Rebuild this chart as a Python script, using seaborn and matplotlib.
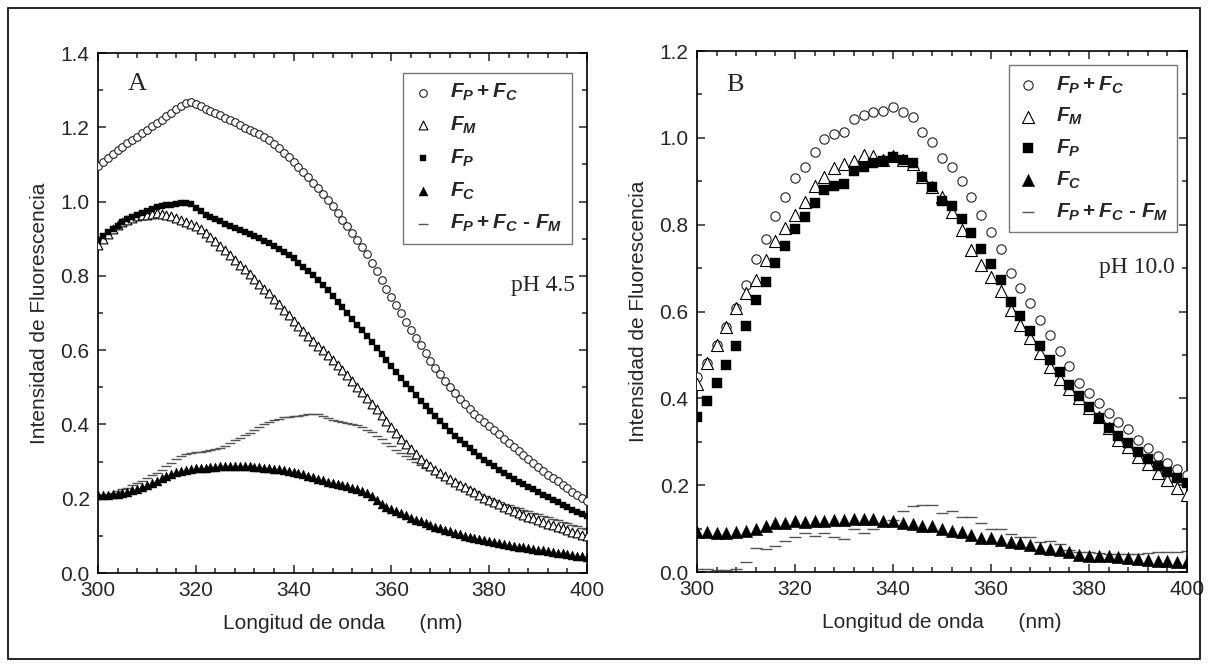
import numpy as np
import pandas as pd
import matplotlib
matplotlib.use('Agg')
import matplotlib.pyplot as plt
import seaborn as sns
from matplotlib.ticker import MultipleLocator, AutoMinorLocator
from matplotlib.patches import Rectangle

# --- Data: panel A (pH 4.5), 1 nm steps ---
wl_a = np.arange(300, 401, 1)
a_fp_fc = [1.096, 1.107, 1.118, 1.128, 1.138, 1.147, 1.157, 1.166, 1.175, 1.184,
           1.193, 1.203, 1.212, 1.221, 1.230, 1.239, 1.248, 1.257, 1.266, 1.268,
           1.263, 1.257, 1.250, 1.244, 1.238, 1.232, 1.226, 1.220, 1.213, 1.206,
           1.198, 1.193, 1.187, 1.181, 1.174, 1.166, 1.155, 1.143, 1.131, 1.119,
           1.106, 1.093, 1.080, 1.066, 1.051, 1.036, 1.020, 1.004, 0.987, 0.969,
           0.951, 0.933, 0.915, 0.897, 0.878, 0.858, 0.835, 0.812, 0.789, 0.766,
           0.743, 0.721, 0.699, 0.677, 0.655, 0.634, 0.613, 0.592, 0.572, 0.553,
           0.535, 0.517, 0.500, 0.484, 0.469, 0.455, 0.442, 0.429, 0.417, 0.406,
           0.395, 0.384, 0.373, 0.362, 0.351, 0.340, 0.329, 0.318, 0.307, 0.296,
           0.285, 0.275, 0.265, 0.256, 0.247, 0.238, 0.228, 0.219, 0.211, 0.203,
           0.195]
a_fm = [0.883, 0.900, 0.914, 0.926, 0.937, 0.945, 0.951, 0.956, 0.960, 0.963,
        0.965, 0.967, 0.968, 0.967, 0.964, 0.960, 0.955, 0.950, 0.945, 0.940,
        0.934, 0.926, 0.916, 0.905, 0.893, 0.881, 0.869, 0.856, 0.843, 0.830,
        0.818, 0.805, 0.792, 0.779, 0.766, 0.753, 0.739, 0.724, 0.709, 0.694,
        0.679, 0.665, 0.651, 0.638, 0.625, 0.612, 0.600, 0.587, 0.574, 0.561,
        0.547, 0.532, 0.517, 0.502, 0.487, 0.472, 0.456, 0.441, 0.426, 0.410,
        0.394, 0.378, 0.362, 0.347, 0.333, 0.320, 0.308, 0.297, 0.287, 0.277,
        0.268, 0.260, 0.252, 0.245, 0.238, 0.231, 0.224, 0.217, 0.210, 0.203,
        0.197, 0.191, 0.185, 0.179, 0.173, 0.167, 0.162, 0.157, 0.152, 0.147,
        0.142, 0.138, 0.133, 0.129, 0.124, 0.120, 0.115, 0.111, 0.107, 0.103,
        0.099]
a_fp = [0.897, 0.907, 0.917, 0.926, 0.935, 0.944, 0.952, 0.959, 0.965, 0.970,
        0.975, 0.980, 0.985, 0.988, 0.990, 0.992, 0.994, 0.996, 0.997, 0.993,
        0.983, 0.974, 0.965, 0.958, 0.952, 0.947, 0.941, 0.935, 0.930, 0.924,
        0.918, 0.913, 0.907, 0.901, 0.895, 0.888, 0.881, 0.873, 0.865, 0.856,
        0.847, 0.836, 0.825, 0.814, 0.802, 0.789, 0.775, 0.761, 0.746, 0.730,
        0.715, 0.700, 0.684, 0.669, 0.653, 0.637, 0.621, 0.605, 0.589, 0.573,
        0.557, 0.541, 0.526, 0.510, 0.495, 0.480, 0.464, 0.450, 0.436, 0.422,
        0.409, 0.396, 0.383, 0.370, 0.358, 0.347, 0.336, 0.325, 0.315, 0.305,
        0.296, 0.287, 0.278, 0.270, 0.262, 0.254, 0.246, 0.239, 0.232, 0.225,
        0.218, 0.211, 0.204, 0.197, 0.190, 0.184, 0.177, 0.171, 0.165, 0.159,
        0.153]
a_fc = [0.210, 0.210, 0.211, 0.212, 0.214, 0.216, 0.219, 0.223, 0.227, 0.232,
        0.237, 0.243, 0.249, 0.255, 0.261, 0.266, 0.271, 0.275, 0.278, 0.280,
        0.282, 0.283, 0.284, 0.285, 0.286, 0.287, 0.288, 0.288, 0.288, 0.288,
        0.288, 0.287, 0.286, 0.285, 0.284, 0.283, 0.281, 0.279, 0.277, 0.275,
        0.273, 0.270, 0.266, 0.262, 0.258, 0.254, 0.250, 0.246, 0.243, 0.240,
        0.237, 0.234, 0.230, 0.226, 0.221, 0.215, 0.207, 0.197, 0.187, 0.179,
        0.173, 0.167, 0.161, 0.155, 0.149, 0.144, 0.139, 0.134, 0.129, 0.124,
        0.120, 0.116, 0.112, 0.108, 0.105, 0.101, 0.098, 0.095, 0.092, 0.089,
        0.086, 0.083, 0.080, 0.078, 0.075, 0.073, 0.071, 0.069, 0.067, 0.065,
        0.063, 0.061, 0.059, 0.057, 0.055, 0.053, 0.051, 0.049, 0.047, 0.045,
        0.043]
a_diff = [0.210, 0.211, 0.213, 0.216, 0.220, 0.225, 0.230, 0.236, 0.242, 0.249,
          0.256, 0.263, 0.270, 0.278, 0.287, 0.297, 0.307, 0.315, 0.320, 0.323,
          0.325, 0.327, 0.328, 0.330, 0.333, 0.337, 0.343, 0.350, 0.357, 0.364,
          0.371, 0.378, 0.386, 0.394, 0.401, 0.407, 0.412, 0.416, 0.419, 0.421,
          0.422, 0.424, 0.426, 0.428, 0.429, 0.428, 0.424, 0.418, 0.413, 0.410,
          0.407, 0.405, 0.402, 0.398, 0.392, 0.386, 0.379, 0.370, 0.360, 0.350,
          0.341, 0.332, 0.323, 0.314, 0.306, 0.298, 0.291, 0.284, 0.277, 0.270,
          0.263, 0.257, 0.250, 0.244, 0.238, 0.232, 0.226, 0.220, 0.214, 0.208,
          0.202, 0.197, 0.192, 0.187, 0.182, 0.178, 0.174, 0.170, 0.166, 0.162,
          0.158, 0.154, 0.150, 0.146, 0.142, 0.138, 0.134, 0.130, 0.126, 0.122,
          0.118]

# --- Data: panel B (pH 10.0), 2 nm steps ---
wl_b = np.arange(300, 401, 2)
b_fp_fc = [0.450, 0.482, 0.523, 0.565, 0.609, 0.661, 0.722, 0.768, 0.820, 0.863,
           0.907, 0.932, 0.968, 0.997, 1.008, 1.013, 1.043, 1.053, 1.060, 1.062,
           1.072, 1.060, 1.049, 1.014, 0.991, 0.953, 0.933, 0.901, 0.864, 0.822,
           0.784, 0.743, 0.689, 0.655, 0.620, 0.580, 0.545, 0.510, 0.474, 0.436,
           0.412, 0.390, 0.367, 0.346, 0.329, 0.304, 0.285, 0.268, 0.252, 0.237,
           0.223]
b_fm = [0.434, 0.481, 0.523, 0.565, 0.607, 0.642, 0.672, 0.719, 0.763, 0.793,
        0.822, 0.853, 0.889, 0.910, 0.931, 0.939, 0.947, 0.960, 0.958, 0.950,
        0.958, 0.950, 0.939, 0.910, 0.887, 0.863, 0.830, 0.788, 0.742, 0.707,
        0.680, 0.648, 0.603, 0.570, 0.540, 0.505, 0.473, 0.444, 0.421, 0.400,
        0.377, 0.356, 0.331, 0.304, 0.287, 0.266, 0.249, 0.229, 0.212, 0.193,
        0.177]
b_fp = [0.356, 0.395, 0.435, 0.477, 0.521, 0.567, 0.626, 0.667, 0.711, 0.751,
        0.790, 0.817, 0.851, 0.880, 0.889, 0.894, 0.924, 0.932, 0.941, 0.947,
        0.955, 0.950, 0.941, 0.910, 0.887, 0.855, 0.843, 0.812, 0.780, 0.743,
        0.709, 0.672, 0.623, 0.590, 0.555, 0.520, 0.488, 0.460, 0.431, 0.405,
        0.380, 0.355, 0.331, 0.313, 0.298, 0.277, 0.260, 0.244, 0.230, 0.217,
        0.206]
b_fc = [0.093, 0.093, 0.091, 0.091, 0.093, 0.095, 0.100, 0.106, 0.112, 0.114,
        0.118, 0.116, 0.118, 0.118, 0.120, 0.120, 0.121, 0.123, 0.121, 0.118,
        0.118, 0.112, 0.110, 0.106, 0.105, 0.099, 0.095, 0.092, 0.085, 0.079,
        0.078, 0.073, 0.069, 0.066, 0.062, 0.056, 0.053, 0.051, 0.045, 0.039,
        0.038, 0.038, 0.038, 0.035, 0.033, 0.030, 0.028, 0.026, 0.025, 0.024,
        0.022]
b_diff = [0.008, 0.008, 0.005, 0.005, 0.008, 0.024, 0.056, 0.053, 0.061, 0.072,
          0.080, 0.089, 0.084, 0.089, 0.080, 0.075, 0.100, 0.091, 0.100, 0.110,
          0.120, 0.141, 0.153, 0.154, 0.154, 0.137, 0.141, 0.127, 0.127, 0.114,
          0.100, 0.099, 0.088, 0.080, 0.081, 0.070, 0.071, 0.065, 0.051, 0.045,
          0.045, 0.043, 0.041, 0.041, 0.042, 0.041, 0.043, 0.045, 0.045, 0.047,
          0.049]

labels = [r'$F_P + F_C$', r'$F_M$', r'$F_P$', r'$F_C$', r'$F_P + F_C$ - $F_M$']

sns.set_style('ticks')
plt.rcParams['font.family'] = ['Liberation Sans', 'DejaVu Sans']
plt.rcParams['mathtext.fontset'] = 'custom'
plt.rcParams['mathtext.it'] = 'Liberation Sans:italic:bold'
plt.rcParams['mathtext.rm'] = 'Liberation Sans:bold'
plt.rcParams['mathtext.bf'] = 'Liberation Sans:bold'

fig = plt.figure(figsize=(12.08, 6.67), dpi=100)
ax_a = fig.add_axes([0.0811, 0.1409, 0.4048, 0.7796])
ax_b = fig.add_axes([0.5770, 0.1424, 0.4056, 0.7811])

# figure frame
fig.patches.append(Rectangle((0.007, 0.012), 0.986, 0.976, transform=fig.transFigure,
                             fill=False, edgecolor='black', linewidth=1.2))


def draw_panel(ax, wl, series, sizes):
    s_circ, s_tri, s_sq, s_ftri, s_dash = sizes
    sns.scatterplot(x=wl, y=series[0], ax=ax, marker='o', s=s_circ, facecolor='white',
                    edgecolor='#222222', linewidth=0.8, label=labels[0], zorder=3)
    sns.scatterplot(x=wl, y=series[1], ax=ax, marker='^', s=s_tri, facecolor='white',
                    edgecolor='black', linewidth=0.8, label=labels[1], zorder=4)
    sns.scatterplot(x=wl, y=series[2], ax=ax, marker='s', s=s_sq, color='black',
                    edgecolor='black', linewidth=0.3, label=labels[2], zorder=5)
    sns.scatterplot(x=wl, y=series[3], ax=ax, marker='^', s=s_ftri, color='black',
                    edgecolor='black', linewidth=0.3, label=labels[3], zorder=5)
    sns.scatterplot(x=wl, y=series[4], ax=ax, marker='_', s=s_dash, color='#555555',
                    linewidth=1.0, label=labels[4], zorder=2)


draw_panel(ax_a, wl_a, [a_fp_fc, a_fm, a_fp, a_fc, a_diff], (30, 40, 24, 42, 60))
draw_panel(ax_b, wl_b, [b_fp_fc, b_fm, b_fp, b_fc, b_diff], (45, 75, 45, 80, 80))

for ax, ytop, ymaj in [(ax_a, 1.4, 0.2), (ax_b, 1.2, 0.2)]:
    ax.set_xlim(300, 400)
    ax.set_ylim(0, ytop)
    ax.xaxis.set_major_locator(MultipleLocator(20))
    ax.xaxis.set_minor_locator(AutoMinorLocator(5))
    ax.yaxis.set_major_locator(MultipleLocator(ymaj))
    ax.yaxis.set_minor_locator(AutoMinorLocator(2))
    ax.yaxis.set_major_formatter(matplotlib.ticker.FormatStrFormatter('%.1f'))
    ax.tick_params(which='both', direction='in', top=True, right=True,
                   labelsize=15, width=1.1, pad=6)
    ax.tick_params(which='major', length=6)
    ax.tick_params(which='minor', length=3.5)
    for sp in ax.spines.values():
        sp.set_linewidth(1.2)
        sp.set_color('black')
    ax.set_xlabel('Longitud de onda      (nm)', fontsize=15, labelpad=10)
    ax.set_ylabel('Intensidad de Fluorescencia', fontsize=15, labelpad=8)

leg_a = ax_a.legend(loc='upper right', bbox_to_anchor=(0.969, 0.962), fontsize=15,
                    frameon=True, fancybox=False, edgecolor='#777777', framealpha=1,
                    borderaxespad=0, labelspacing=0.55, handletextpad=0.8,
                    borderpad=0.45, handlelength=1.0)
leg_b = ax_b.legend(loc='upper right', bbox_to_anchor=(0.98, 0.973), fontsize=15,
                    frameon=True, fancybox=False, edgecolor='#777777', framealpha=1,
                    borderaxespad=0, labelspacing=0.5, handletextpad=0.8,
                    borderpad=0.45, handlelength=1.0)
for leg in (leg_a, leg_b):
    leg.get_frame().set_linewidth(1.0)
    for t in leg.get_texts():
        t.set_fontweight('bold')

ax_a.text(0.06, 0.94, 'A', transform=ax_a.transAxes, fontsize=19,
          family='Liberation Serif', va='center', ha='left')
ax_a.text(0.975, 0.552, 'pH 4.5', transform=ax_a.transAxes, fontsize=17,
          family='Liberation Serif', va='center', ha='right')
ax_b.text(0.06, 0.935, 'B', transform=ax_b.transAxes, fontsize=19,
          family='Liberation Serif', va='center', ha='left')
ax_b.text(0.975, 0.585, 'pH 10.0', transform=ax_b.transAxes, fontsize=17,
          family='Liberation Serif', va='center', ha='right')

fig.savefig('out.png', dpi=100)
